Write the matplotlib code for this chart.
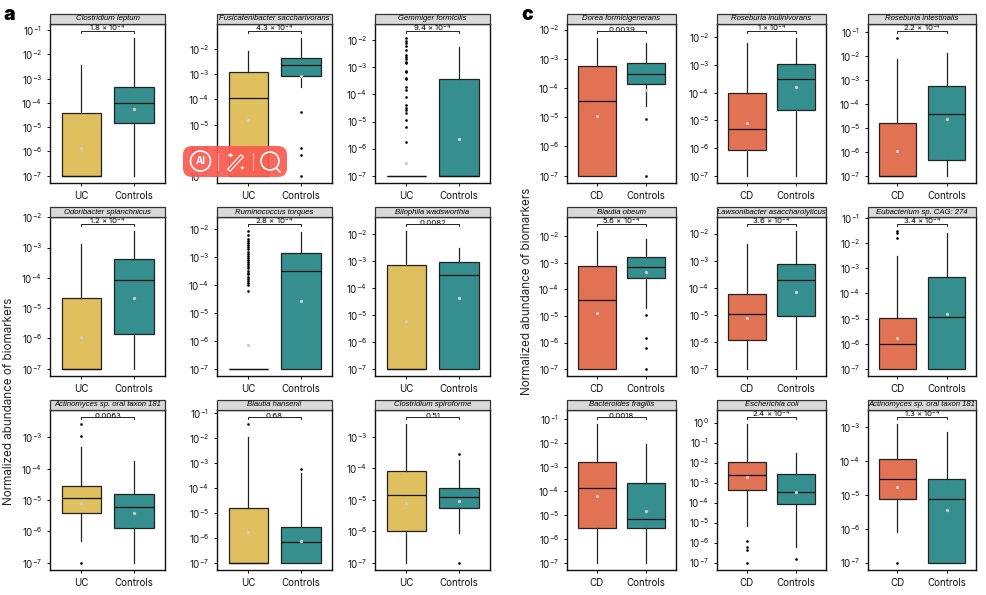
import matplotlib
matplotlib.use("Agg")
import matplotlib.pyplot as plt
from matplotlib.patches import Rectangle, FancyBboxPatch, Circle
from matplotlib.lines import Line2D

plt.rcParams['font.family'] = ['Inter', 'DejaVu Sans']
plt.rcParams['mathtext.default'] = 'regular'

W, H = 986, 595
GOLD, TEAL, CORAL = '#E0BF5E', '#358F8E', '#E27254'

# values are log10(abundance): low whisker, Q1, median, Q3, high whisker, mean
species_a = ['Clostridium leptum', 'Fusicatenibacter saccharivorans', 'Gemmiger formicilis',
             'Odoribacter splanchnicus', 'Ruminococcus torques', 'Bilophila wadsworthia',
             'Actinomyces sp. oral taxon 181', 'Blautia hansenii', 'Clostridium spiroforme']
species_c = ['Dorea formicigenerans', 'Roseburia inulinivorans', 'Roseburia intestinalis',
             'Blautia obeum', 'Lawsonibacter asaccharolyticus', 'Eubacterium sp. CAG: 274',
             'Bacteroides fragilis', 'Escherichia coli', 'Actinomyces sp. oral taxon 181']
pvals_a = [r'1.8 × $10^{-4}$', r'4.3 × $10^{-4}$', r'9.4 × $10^{-4}$',
           r'1.2 × $10^{-4}$', r'2.8 × $10^{-4}$', '0.0082',
           '0.0063', '0.68', '0.51']
pvals_c = ['0.0039', r'1 × $10^{-4}$', r'2.2 × $10^{-4}$',
           r'5.6 × $10^{-4}$', r'3.6 × $10^{-4}$', r'3.4 × $10^{-4}$',
           '0.0018', r'2.4 × $10^{-4}$', r'1.3 × $10^{-4}$']

ylims_a = [(-7.30, -0.75), (-7.29, -1.03), (-7.27, -1.40),
           (-7.24, -1.99), (-7.26, -1.56), (-7.27, -1.38),
           (-7.23, -2.13), (-7.29, -0.88), (-7.23, -2.15)]
ylims_c = [(-7.25, -1.81), (-7.26, -1.52), (-7.29, -0.68),
           (-7.26, -1.27), (-7.26, -1.39), (-7.28, -0.96),
           (-7.30, -0.64), (-7.37, 0.63), (-7.22, -2.50)]

uc_stats = [
    [-7, -7, -7, -4.40, -2.44, -5.84],
    [-7, -7, -3.94, -2.93, -2.09, -4.81],
    [-7, -7, -7, -7, -7, -6.52],
    [-7, -7, -7, -4.65, -2.89, -5.96],
    [-7, -7, -7, -7, -7, -6.16],
    [-7, -7, -7, -3.15, -1.89, -5.25],
    [-6.30, -5.42, -4.95, -4.55, -3.30, -5.11],
    [-7, -7, -7, -4.82, -1.96, -5.78],
    [-7, -5.98, -4.85, -4.10, -2.61, -5.09],
]
uc_ctrl_stats = [
    [-7, -4.81, -4.01, -3.33, -1.32, -4.25],
    [-3.53, -3.07, -2.65, -2.38, -1.59, -3.07],
    [-7, -7, -7, -3.44, -2.26, -5.65],
    [-7, -5.85, -4.08, -3.38, -2.44, -4.65],
    [-7, -7, -3.48, -2.84, -2.11, -4.57],
    [-7, -7, -3.54, -3.05, -2.52, -4.39],
    [-7, -5.89, -5.23, -4.82, -3.75, -5.41],
    [-7, -7, -6.17, -5.57, -3.42, -6.12],
    [-6.05, -5.25, -4.92, -4.62, -3.74, -5.03],
]
cd_stats = [
    [-7, -7, -4.45, -3.24, -2.30, -4.97],
    [-7, -6.06, -5.32, -4.00, -2.22, -5.08],
    [-7, -7, -7, -4.80, -2.15, -5.95],
    [-7, -7, -4.38, -3.13, -1.81, -4.88],
    [-7, -5.94, -4.97, -4.22, -2.37, -5.11],
    [-7, -7, -6.02, -4.99, -2.51, -5.76],
    [-7, -5.56, -3.88, -2.79, -1.24, -4.22],
    [-5.15, -3.39, -2.64, -1.98, -0.08, -2.72],
    [-6.10, -5.12, -4.55, -3.96, -2.92, -4.76],
]
cd_ctrl_stats = [
    [-4.60, -3.87, -3.53, -3.15, -2.47, -4.07],
    [-7, -4.63, -3.51, -2.95, -2.04, -3.80],
    [-7, -6.34, -4.43, -3.24, -1.90, -4.63],
    [-4.71, -3.57, -3.15, -2.78, -2.09, -3.35],
    [-7, -5.06, -3.70, -3.13, -1.91, -4.15],
    [-7, -7, -4.95, -3.33, -1.61, -4.82],
    [-7, -5.55, -5.19, -3.66, -2.07, -4.83],
    [-6.20, -4.05, -3.46, -2.59, -1.54, -3.46],
    [-7, -7, -5.13, -4.55, -3.15, -5.46],
]

uc_out = [
    [], [],
    [-1.93, -2.01, -2.11, -2.23, -2.36, -2.54, -2.63, -2.70, -2.79, -2.85, -3.12, -3.19,
     -3.40, -3.44, -3.73, -3.83, -4.10, -4.38, -4.51, -4.59, -4.67, -4.96, -5.22, -5.75],
    [],
    [-2.05, -2.20, -2.35, -2.42, -2.50, -2.58, -2.65, -2.72, -2.80, -2.88, -2.95, -3.02, -3.10,
     -3.18, -3.25, -3.32, -3.40, -3.48, -3.55, -3.62, -3.70, -3.78, -3.85, -3.92, -3.98, -4.20],
    [],
    [-2.58, -2.97, -7],
    [-1.46],
    [],
]
uc_ctrl_out = [[], [-4.50, -5.91, -6.19, -7], [], [], [], [], [], [-3.26], [-3.55, -7]]
cd_out = [[], [], [-1.26], [], [], [-1.53, -1.58, -1.78], [], [-5.90, -6.20, -6.37, -7], [-7]]
cd_ctrl_out = [[-5.06, -7], [], [], [-4.98, -5.83, -6.21, -7], [], [], [], [-6.80], []]

col_a = [(50, 165), (217, 332), (375, 490)]
col_c = [(567, 676), (717, 826), (868, 976)]
rows = [(24, 183), (217, 376), (410, 570)]

fig = plt.figure(figsize=(W / 100, H / 100), dpi=100)


def to_stat(v, out):
    return dict(whislo=10.0 ** v[0], q1=10.0 ** v[1], med=10.0 ** v[2], q3=10.0 ** v[3],
                whishi=10.0 ** v[4], mean=10.0 ** v[5], fliers=[10.0 ** o for o in out])


def panel(xr, yr, title, pval, ylim, s1, o1, s2, o2, labels, colors):
    ax = fig.add_axes([xr[0] / W, 1 - yr[1] / H, (xr[1] - xr[0]) / W, (yr[1] - yr[0]) / H])
    ax.set_yscale('log')
    bp = ax.bxp([to_stat(s1, o1), to_stat(s2, o2)], positions=[1, 2], widths=0.76,
                patch_artist=True, showcaps=False, showmeans=True,
                boxprops=dict(linewidth=0.9, edgecolor='#222222'),
                medianprops=dict(color='#111111', linewidth=0.9),
                whiskerprops=dict(color='#222222', linewidth=0.9),
                meanprops=dict(marker='o', markerfacecolor='#C9CDCD', markeredgecolor='none', markersize=2.4),
                flierprops=dict(marker='o', markerfacecolor='black', markeredgecolor='none', markersize=1.9))
    for patch, c in zip(bp['boxes'], colors):
        patch.set_facecolor(c)
    ax.set_xlim(0.4, 2.6)
    ax.set_ylim(10.0 ** ylim[0], 10.0 ** ylim[1])
    ax.set_xticks([1, 2], labels)
    lo, hi = int(ylim[0]) - 1, int(ylim[1]) + 1
    ticks = [k for k in range(lo, hi + 1) if ylim[0] <= k <= ylim[1]]
    ax.set_yticks([10.0 ** k for k in ticks], [f'$10^{{{k}}}$' for k in ticks])
    ax.minorticks_off()
    ax.tick_params(axis='both', length=2.5, width=0.7, pad=3.2, labelsize=7, colors='#111111')
    for sp in ax.spines.values():
        sp.set_linewidth(1.0)
        sp.set_color('#111111')
    h = yr[1] - yr[0]
    ax.add_patch(Rectangle((0, 1), 1, 10 / h, transform=ax.transAxes, clip_on=False,
                           facecolor='#D9D9D9', edgecolor='#333333', linewidth=0.9, zorder=5))
    ax.text(0.5, 1 + 5 / h, title, transform=ax.transAxes, ha='center', va='center',
            fontsize=5.6, family=['Liberation Sans'], style='italic', zorder=6, clip_on=False)
    tr = ax.get_xaxis_transform()
    ytop, ytip = 1 - 6.7 / h, 1 - 9.3 / h
    ax.plot([1, 1, 2, 2], [ytip, ytop, ytop, ytip], transform=tr, color='#222222', lw=0.7, zorder=6)
    ax.text(1.5, 1 - 7.6 / h, pval, transform=tr, ha='center', va='baseline', fontsize=5.6, zorder=4)
    return ax


for i in range(9):
    r, c = divmod(i, 3)
    panel(col_a[c], rows[r], species_a[i], pvals_a[i], ylims_a[i],
          uc_stats[i], uc_out[i], uc_ctrl_stats[i], uc_ctrl_out[i], ['UC', 'Controls'], [GOLD, TEAL])
    panel(col_c[c], rows[r], species_c[i], pvals_c[i], ylims_c[i],
          cd_stats[i], cd_out[i], cd_ctrl_stats[i], cd_ctrl_out[i], ['CD', 'Controls'], [CORAL, TEAL])

fig.text(4 / W, 1 - 15 / H, 'a', fontsize=14, fontweight='black', va='center', ha='left')
fig.text(521 / W, 1 - 15 / H, 'c', fontsize=14, fontweight='black', va='center', ha='left')
fig.text(9.5 / W, 1 - 401 / H, 'Normalized abundance of biomarkers', rotation=90, fontsize=8.4,
         va='center', ha='center', color='#222222')
fig.text(527.5 / W, 1 - 291 / H, 'Normalized abundance of biomarkers', rotation=90, fontsize=8.4,
         va='center', ha='center', color='#222222')

# floating viewer toolbar that sits on the reference picture
ov = fig.add_axes([0, 0, 1, 1], facecolor='none')
ov.set_xlim(0, W)
ov.set_ylim(H, 0)
ov.axis('off')
ov.add_patch(FancyBboxPatch((183, 146), 104, 31, boxstyle='round,pad=0,rounding_size=9', mutation_aspect=1,
                            facecolor='#FA5A50', edgecolor='none', alpha=0.92, zorder=10))
ov.add_patch(Circle((200.5, 161), 10, facecolor='none', edgecolor='white', lw=1.2, zorder=11))
ov.text(200.5, 161.5, 'AI', color='white', fontsize=7, fontweight='bold', ha='center', va='center', zorder=11)
ov.add_line(Line2D([218, 218], [153, 170], color='#FFB0A8', lw=0.8, zorder=11))
ov.add_line(Line2D([230, 241], [169, 157], color='white', lw=3.2, zorder=11))
ov.add_line(Line2D([230, 241], [169, 157], color='#FA5A50', lw=1.4, zorder=11))
ov.text(230, 155, '✦', color='white', fontsize=6, ha='center', va='center', family=['DejaVu Sans'], zorder=11)
ov.text(242, 168, '✦', color='white', fontsize=4, ha='center', va='center', family=['DejaVu Sans'], zorder=11)
ov.add_line(Line2D([253, 253], [153, 170], color='#FFB0A8', lw=0.8, zorder=11))
ov.add_patch(Circle((270, 161), 9, facecolor='none', edgecolor='white', lw=1.2, zorder=11))
ov.add_line(Line2D([276, 280], [168, 172], color='white', lw=1.2, zorder=11))

fig.savefig('out.png', dpi=100)
